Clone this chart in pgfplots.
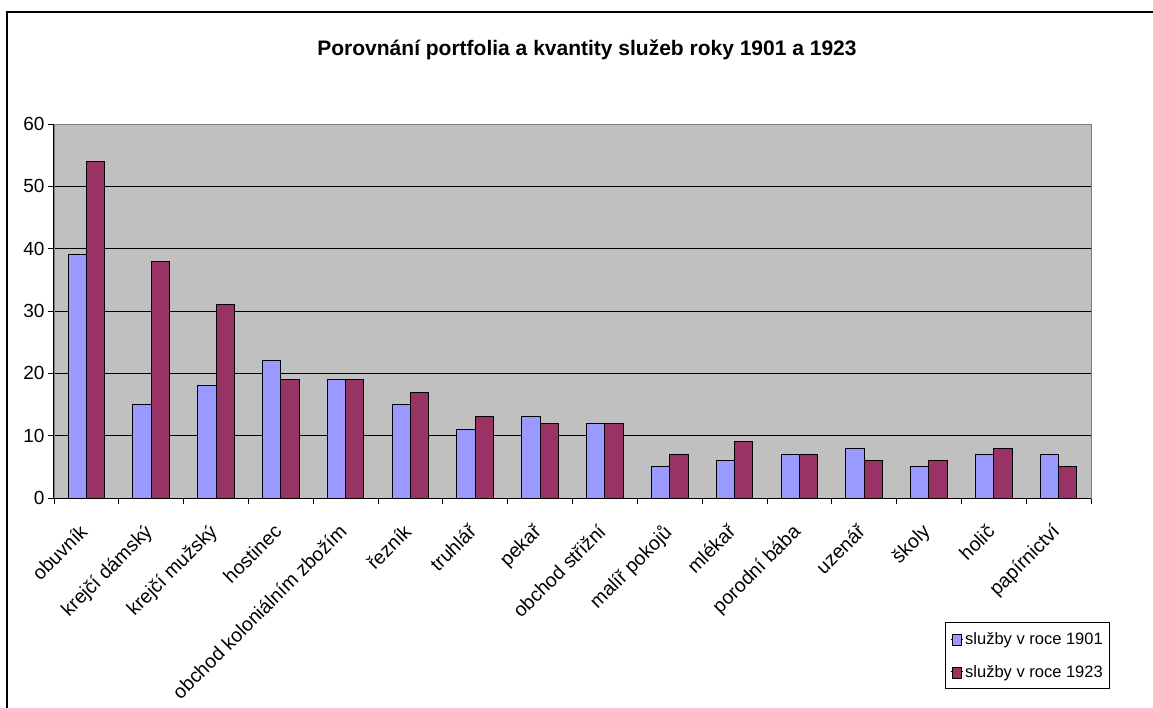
\documentclass[border=0pt]{standalone}
\usepackage{fontspec}
\setmainfont{Liberation Sans}
\usepackage{pgfplots}
\pgfplotsset{compat=1.18}
\definecolor{bar1901}{HTML}{9999FF}
\definecolor{bar1923}{HTML}{993366}
\definecolor{plotgray}{HTML}{C0C0C0}
\definecolor{edgegray}{HTML}{808080}

\begin{document}
\begin{tikzpicture}
\useasboundingbox (0pt,0pt) rectangle (1153pt,707pt);
% outer chart frame (cut off at right and bottom)
\draw[line width=1.2pt] (7pt,-10pt) -- (7pt,695pt) -- (1170pt,695pt);
\node[font=\fontsize{21}{25}\selectfont\bfseries] at (587pt,657pt)
  {Porovnání portfolia a kvantity služeb roky 1901 a 1923};
\begin{axis}[
    at={(54pt,209pt)}, anchor=south west,
    scale only axis, width=1037pt, height=374pt,
    ybar=0pt, bar width=18.3pt,
    xmin=-0.5, xmax=15.5, ymin=0, ymax=60,
    ytick={0,10,...,60},
    xtick={0,...,15},
    xticklabels={obuvník, krejčí dámský, krejčí mužský, hostinec,
        obchod koloniálním zbožím, řezník, truhlář, pekař, obchod střižní,
        malíř pokojů, mlékař, porodní bába, uzenář, školy, holič, papírnictví},
    minor xtick={-0.5,0.5,...,15.5},
    xtick pos=bottom, ytick pos=left,
    tick align=outside,
    major tick length=6pt, minor tick length=6pt,
    major x tick style={draw=none},
    minor x tick style={black, line width=0.8pt},
    major y tick style={black, line width=0.8pt},
    x tick label style={yshift=-14pt, xshift=-8pt, rotate=45, anchor=north east,
        font=\fontsize{19.5}{22}\selectfont},
    y tick label style={font=\fontsize{19}{21}\selectfont},
    /pgf/number format/assume math mode=true,
    ymajorgrids,
    major grid style={black, line width=0.8pt},
    axis background/.style={fill=plotgray},
    axis line style={edgegray, line width=0.8pt},
    after end axis/.code={
        \draw[black, line width=1pt] (rel axis cs:0,1) -- (rel axis cs:0,0) -- (rel axis cs:1,0);
    },
    legend style={at={(0.859,-0.511)}, anchor=south west,
        draw=black, line width=0.8pt,
        font=\fontsize{16.5}{20}\selectfont,
        cells={anchor=west}, row sep=15pt,
        inner xsep=5pt, inner ysep=8pt},
    legend image code/.code={
        \path (0pt,0pt) -- (12pt,0pt);
        \draw[#1, draw=black, line width=0.8pt] (2pt,-6pt) rectangle (11pt,5pt);
    },
]
\addplot[fill=bar1901, draw=black, line width=1pt, bar shift=-9.15pt] coordinates {
    (0,39) (1,15) (2,18) (3,22) (4,19) (5,15) (6,11) (7,13)
    (8,12) (9,5) (10,6) (11,7) (12,8) (13,5) (14,7) (15,7)
};
\addplot[fill=bar1923, draw=black, line width=1pt, bar shift=9.15pt] coordinates {
    (0,54) (1,38) (2,31) (3,19) (4,19) (5,17) (6,13) (7,12)
    (8,12) (9,7) (10,9) (11,7) (12,6) (13,6) (14,8) (15,5)
};
\legend{služby v roce 1901, služby v roce 1923}
\end{axis}
\end{tikzpicture}
\end{document}
